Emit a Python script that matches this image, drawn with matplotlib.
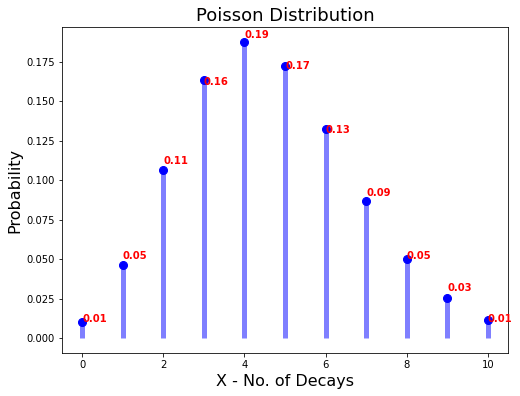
import matplotlib
matplotlib.use("Agg")
import matplotlib.pyplot as plt

# nombre de désintégrations et probabilités
x = [0, 1, 2, 3, 4, 5, 6, 7, 8, 9, 10]
prob = [0.0101, 0.0462, 0.1063, 0.1631, 0.1875, 0.1725, 0.1323, 0.0869, 0.0500, 0.0255, 0.0118]

fig = plt.figure(figsize=(520/72, 396/72), dpi=72)
ax = fig.add_axes([62/520, 1-353/396, (508-62)/520, (353-27)/396])

ax.plot(x, prob, 'bo', ms=8)
ax.vlines(x, 0, prob, colors='b', lw=5, alpha=0.5)

for xi, p in zip(x, prob):
    ax.text(xi, round(p, 2), str(round(p, 2)), color='red', fontweight='bold', fontsize=10)

ax.set_title('Poisson Distribution', fontsize=18)
ax.set_xlabel('X - No. of Decays', fontsize=16)
ax.set_ylabel('Probability', fontsize=16)

fig.savefig('out.png', dpi=72)
